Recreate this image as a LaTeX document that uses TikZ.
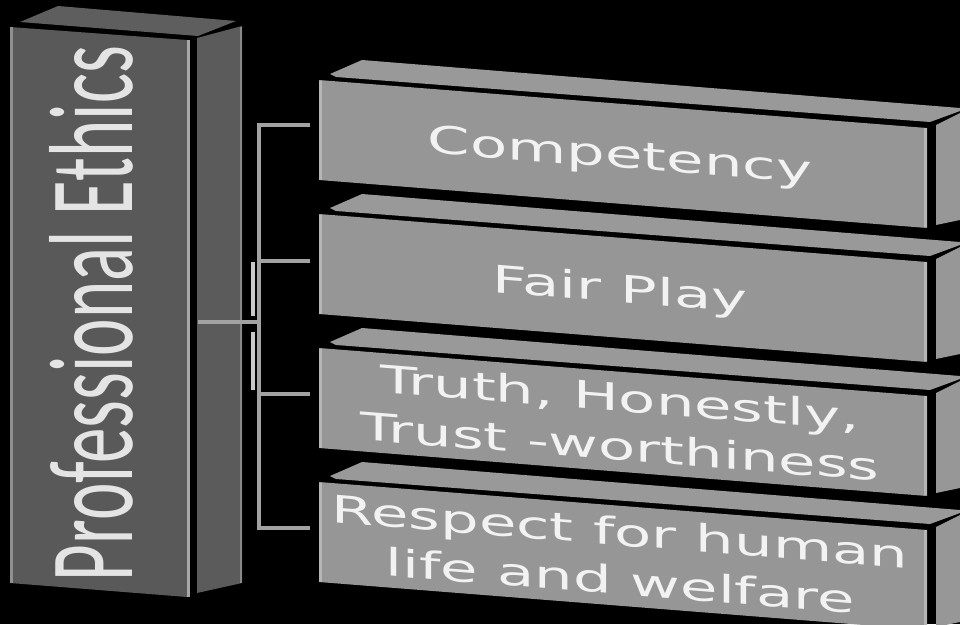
\documentclass[tikz,border=0pt]{standalone}
\usepackage{fontspec}
\newfontfamily\boxfont{DejaVu Sans}
\newfontfamily\titlefont{Carlito}
\definecolor{leftfront}{HTML}{595959}
\definecolor{leftside}{HTML}{5B5B5B}
\definecolor{lefttop}{HTML}{5E5E5E}
\definecolor{leftedge}{HTML}{A8A8A8}
\definecolor{boxfront}{HTML}{969696}
\definecolor{boxtop}{HTML}{999999}
\definecolor{boxside}{HTML}{979797}
\definecolor{boxedge}{HTML}{B6B6B6}
\definecolor{brkcol}{HTML}{A2A2A2}
\definecolor{brklight}{HTML}{C8C8C8}
\definecolor{titletext}{HTML}{E4E4E4}
\definecolor{boxtext}{HTML}{F2F2F2}
\begin{document}
\begin{tikzpicture}[x=1pt,y=-1pt,
  itemtext/.style={text=boxtext, font=\boxfont\fontsize{38}{49}\selectfont,
    align=center, inner sep=0pt, transform shape},
  brk/.style={draw=brkcol, line width=3.5pt},
  hl/.style={line width=2.5pt}]
\useasboundingbox (0,0) rectangle (960,624);
\fill[black] (0,0) rectangle (960,624);
\clip (0,0) rectangle (960,624);

% ---- left box: Professional Ethics
\fill[lefttop] (20,22) -- (58,6) -- (236,21) -- (198,36) -- cycle;
\fill[leftfront] (10,27) -- (187,40) -- (187,597) -- (10,583) -- cycle;
\fill[leftside] (197,38) -- (242,26) -- (242,583) -- (197,593) -- cycle;
\draw[hl, draw=leftedge!70!leftfront] (11.5,27) -- (11.5,583);
\draw[hl, draw=leftedge] (188.5,40) -- (188.5,597);
\draw[hl, draw=leftedge!60!leftside] (240.8,27) -- (240.8,583);
\node[rotate=90, inner sep=0pt, text=titletext] (pe) at (91.5,313.5)
  {\resizebox{535pt}{83pt}{\titlefont Professional Ethics}};

% ---- right boxes
\foreach \t in {80,214,348,482}{
  \fill[boxtop] (330,{\t-6}) -- (362,{\t-20}) -- (960,{\t+28}) -- (960,{\t+31})
     -- (930,{\t+42}) -- (336,{\t-3}) -- cycle;
  \fill[boxfront] (319,\t) -- (927,{\t+48}) -- (927,{\t+148}) -- (319,{\t+100}) -- cycle;
  \fill[boxside] (936,{\t+45}) -- (960,{\t+33}) -- (960,{\t+140}) -- (936,{\t+145}) -- cycle;
  \draw[hl, draw=boxedge] (320.5,{\t+1}) -- (320.5,{\t+100});
  \draw[hl, draw=boxedge] (925.5,{\t+48}) -- (925.5,{\t+147});
}

\begin{scope}[shift={(620,153.8)}, yslant=-0.079, xscale=1.6]
  \node[itemtext, text depth=0pt] (c1) at (0,0) {Competency};
\end{scope}
\begin{scope}[shift={(620,287.8)}, yslant=-0.079, xscale=1.6]
  \node[itemtext, text depth=0pt] (c2) at (0,0) {Fair Play};
\end{scope}
\begin{scope}[shift={(620,421.8)}, yslant=-0.079, xscale=1.6]
  \node[itemtext] (c3) at (0,0) {Truth, Honestly,\\Trust -worthiness};
\end{scope}
\begin{scope}[shift={(620,555.8)}, yslant=-0.079, xscale=1.6]
  \node[itemtext] (c4) at (0,0) {Respect for human\\life and welfare};
\end{scope}

% ---- bracket connector
\coordinate (stem) at (198,322);
\coordinate (spineTop) at (259,125);
\coordinate (spineBot) at (259,528);
\coordinate (e1) at (310,125);
\coordinate (e2) at (310,261);
\coordinate (e3) at (310,394);
\coordinate (e4) at (310,528);
\fill[brklight] (250.5,262) rectangle (255,316);
\fill[brklight] (250.5,332) rectangle (255,390);
\draw[brk] (e1) -- (spineTop) -- (spineBot) -- (e4);
\draw[brk] (e2) -- (e2 -| spineTop);
\draw[brk] (e3) -- (e3 -| spineTop);
\draw[brk] (stem) -- (stem -| spineTop);
\end{tikzpicture}
\end{document}
